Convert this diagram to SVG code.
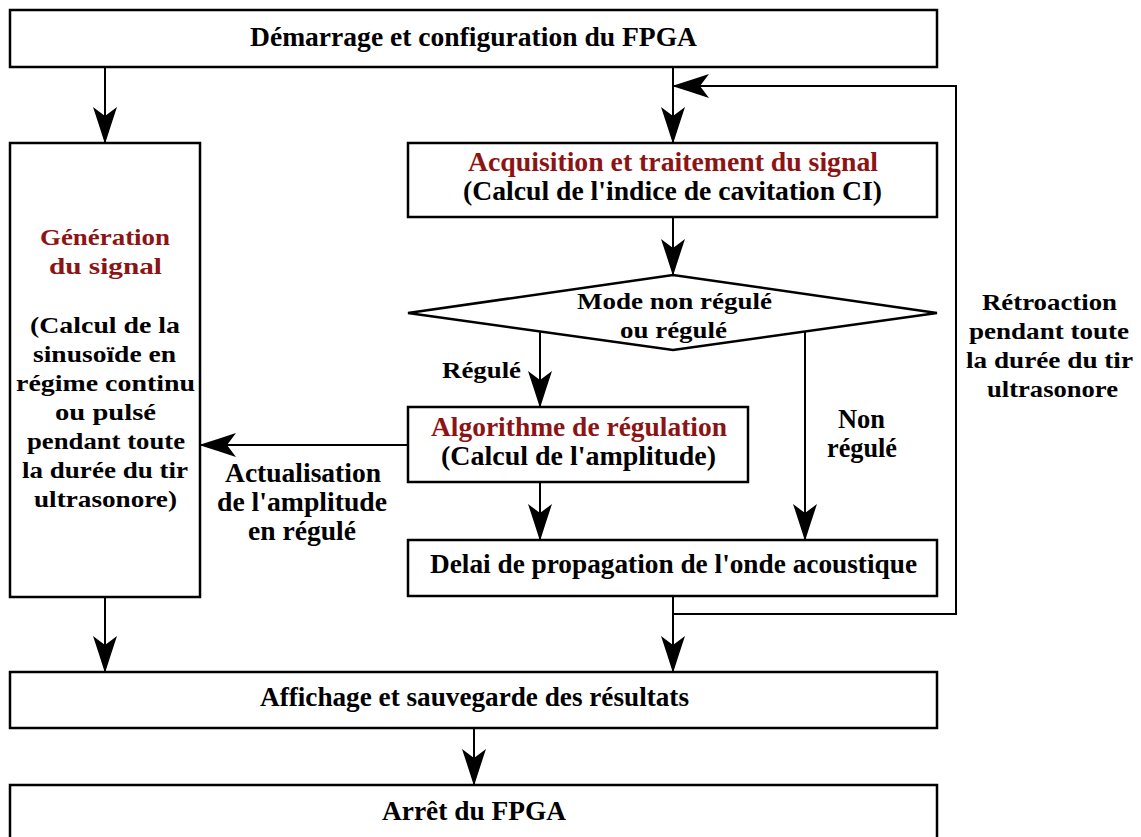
<svg xmlns="http://www.w3.org/2000/svg" width="1141" height="837" viewBox="0 0 1141 837">
<style>
.box{fill:#fff;stroke:#000;stroke-width:2.5}
.ln{fill:none;stroke:#000;stroke-width:2}
text{font-family:"Liberation Serif","Times New Roman",serif;font-weight:bold;text-anchor:middle;fill:#000}
.c{font-size:28px}
.w{font-size:24px}
.r{fill:#8c1414}
</style>
<defs>
<marker id="ah" markerUnits="userSpaceOnUse" viewBox="-38 -13 40 26" refX="0" refY="0" markerWidth="40" markerHeight="26" orient="auto">
<path d="M1,0 Q-18,-6 -36,-12 L-27,0 L-36,12 Q-18,6 1,0 Z" fill="#000"/>
</marker>
</defs>
<rect width="1141" height="837" fill="#fff"/>
<g id="connectors">
<line class="ln" x1="105" y1="67" x2="105" y2="143" marker-end="url(#ah)"/>
<line class="ln" x1="673" y1="67" x2="673" y2="143" marker-end="url(#ah)"/>
<line class="ln" x1="673" y1="217" x2="673" y2="275" marker-end="url(#ah)"/>
<line class="ln" x1="540" y1="331" x2="540" y2="407" marker-end="url(#ah)"/>
<line class="ln" x1="805" y1="331" x2="805" y2="540" marker-end="url(#ah)"/>
<line class="ln" x1="540" y1="482" x2="540" y2="540" marker-end="url(#ah)"/>
<line class="ln" x1="408" y1="445" x2="200" y2="445" marker-end="url(#ah)"/>
<line class="ln" x1="105" y1="597" x2="105" y2="672" marker-end="url(#ah)"/>
<line class="ln" x1="673" y1="596" x2="673" y2="672" marker-end="url(#ah)"/>
<polyline class="ln" points="673,614 956,614 956,86 673,86" marker-end="url(#ah)"/>
<line class="ln" x1="474" y1="728" x2="474" y2="785" marker-end="url(#ah)"/>
<text class="w" x="481.5" y="378" textLength="79" lengthAdjust="spacingAndGlyphs">Régulé</text>
<text class="c" x="861.5" y="428" textLength="47" lengthAdjust="spacingAndGlyphs">Non</text>
<text class="c" x="862" y="457" textLength="70" lengthAdjust="spacingAndGlyphs">régulé</text>
<text class="c" x="303" y="482" textLength="156" lengthAdjust="spacingAndGlyphs">Actualisation</text>
<text class="c" x="302" y="511" textLength="170" lengthAdjust="spacingAndGlyphs">de l'amplitude</text>
<text class="c" x="302" y="540" textLength="108" lengthAdjust="spacingAndGlyphs">en régulé</text>
<text class="w" x="1049.5" y="310" textLength="135" lengthAdjust="spacingAndGlyphs">Rétroaction</text>
<text class="w" x="1049" y="339" textLength="160" lengthAdjust="spacingAndGlyphs">pendant toute</text>
<text class="w" x="1049.5" y="368" textLength="167" lengthAdjust="spacingAndGlyphs">la durée du tir</text>
<text class="w" x="1052.5" y="397" textLength="131" lengthAdjust="spacingAndGlyphs">ultrasonore</text>
</g>
<g id="start">
<rect class="box" x="10" y="10" width="927" height="57"/>
<text class="c" x="473.5" y="46" textLength="447" lengthAdjust="spacingAndGlyphs">Démarrage et configuration du FPGA</text>
</g>
<g id="generation">
<rect class="box" x="10" y="143" width="190" height="454"/>
<text class="w r" x="105" y="245" textLength="130" lengthAdjust="spacingAndGlyphs">Génération</text>
<text class="w r" x="105.5" y="274" textLength="113" lengthAdjust="spacingAndGlyphs">du signal</text>
<text class="w" x="105" y="333" textLength="150" lengthAdjust="spacingAndGlyphs">(Calcul de la</text>
<text class="w" x="104.5" y="362" textLength="143" lengthAdjust="spacingAndGlyphs">sinusoïde en</text>
<text class="w" x="105.5" y="391" textLength="179" lengthAdjust="spacingAndGlyphs">régime continu</text>
<text class="w" x="105.5" y="420" textLength="101" lengthAdjust="spacingAndGlyphs">ou pulsé</text>
<text class="w" x="106" y="449" textLength="158" lengthAdjust="spacingAndGlyphs">pendant toute</text>
<text class="w" x="105" y="478" textLength="166" lengthAdjust="spacingAndGlyphs">la durée du tir</text>
<text class="w" x="105.5" y="507" textLength="143" lengthAdjust="spacingAndGlyphs">ultrasonore)</text>
</g>
<g id="acquisition">
<rect class="box" x="408" y="143" width="529" height="74"/>
<text class="c r" x="673" y="171" textLength="410" lengthAdjust="spacingAndGlyphs">Acquisition et traitement du signal</text>
<text class="c" x="672.5" y="200" textLength="419" lengthAdjust="spacingAndGlyphs">(Calcul de l'indice de cavitation CI)</text>
</g>
<g id="decision">
<polygon class="box" points="408,313 673,275 937,313 673,350"/>
<text class="w" x="674.5" y="309" textLength="195" lengthAdjust="spacingAndGlyphs">Mode non régulé</text>
<text class="w" x="673.5" y="338" textLength="107" lengthAdjust="spacingAndGlyphs">ou régulé</text>
</g>
<g id="regulation">
<rect class="box" x="408" y="407" width="340" height="75"/>
<text class="c r" x="579" y="436" textLength="296" lengthAdjust="spacingAndGlyphs">Algorithme de régulation</text>
<text class="c" x="578.5" y="465" textLength="275" lengthAdjust="spacingAndGlyphs">(Calcul de l'amplitude)</text>
</g>
<g id="delai">
<rect class="box" x="408" y="540" width="529" height="56"/>
<text class="c" x="673.5" y="573" textLength="487" lengthAdjust="spacingAndGlyphs">Delai de propagation de l'onde acoustique</text>
</g>
<g id="affichage">
<rect class="box" x="10" y="672" width="927" height="56"/>
<text class="c" x="474.5" y="706" textLength="429" lengthAdjust="spacingAndGlyphs">Affichage et sauvegarde des résultats</text>
</g>
<g id="arret">
<rect class="box" x="10" y="785" width="927" height="70"/>
<text class="c" x="474" y="820" textLength="184" lengthAdjust="spacingAndGlyphs">Arrêt du FPGA</text>
</g>
</svg>
